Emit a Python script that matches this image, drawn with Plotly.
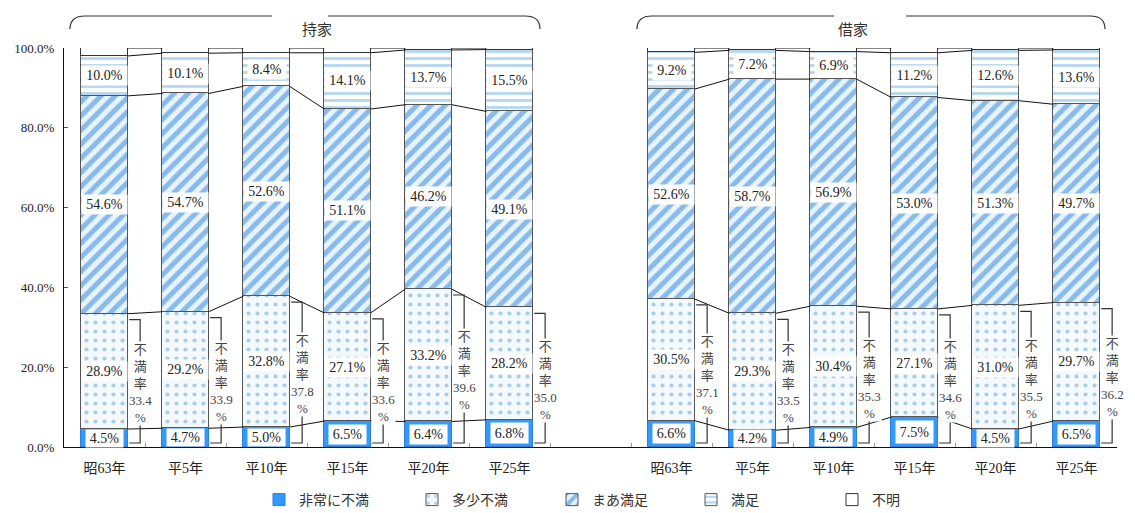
import plotly.graph_objects as go

# ---------------- data ----------------
periods = ["昭63年", "平5年", "平10年", "平15年", "平20年", "平25年"]
groups = ["持家", "借家"]
series_names = ["非常に不満", "多少不満", "まあ満足", "満足", "不明"]

own_very_dissat = [4.5, 4.7, 5.0, 6.5, 6.4, 6.8]
own_some_dissat = [28.9, 29.2, 32.8, 27.1, 33.2, 28.2]
own_fairly_sat = [54.6, 54.7, 52.6, 51.1, 46.2, 49.1]
own_sat = [10.0, 10.1, 8.4, 14.1, 13.7, 15.5]
own_unknown = [2.0, 1.3, 1.2, 1.2, 0.5, 0.4]
own_dissat_rate = [33.4, 33.9, 37.8, 33.6, 39.6, 35.0]

rent_very_dissat = [6.6, 4.2, 4.9, 7.5, 4.5, 6.5]
rent_some_dissat = [30.5, 29.3, 30.4, 27.1, 31.0, 29.7]
rent_fairly_sat = [52.6, 58.7, 56.9, 53.0, 51.3, 49.7]
rent_sat = [9.2, 7.2, 6.9, 11.2, 12.6, 13.6]
rent_unknown = [1.1, 0.6, 0.9, 1.2, 0.6, 0.5]
rent_dissat_rate = [37.1, 33.5, 35.3, 34.6, 35.5, 36.2]

y_tickvals = [0, 20, 40, 60, 80, 100]
y_ticktext = ["0.0%", "20.0%", "40.0%", "60.0%", "80.0%", "100.0%"]

# ---------------- layout helpers ----------------
W, H = 1135, 513
ML, MR, MT, MB = 64, 18, 48, 66
PW, PH = W - ML - MR, H - MT - MB

own_pos = list(range(0, 6))
rent_pos = list(range(7, 13))
BAR_W = 0.57
HALF = BAR_W / 2

SERIF = "Liberation Serif, Noto Sans CJK JP, serif"
SANS = "Noto Sans CJK JP, sans-serif"


def PX(px):
    return (px - ML) / PW


def PY(py):
    return (H - MB - py) / PH


styles = [
    dict(color="#3399FF", line=dict(color="#2a7fd6", width=1)),
    dict(color="#f4f9fd", line=dict(color="#555555", width=1),
         pattern=dict(shape=".", fgcolor="#5f9fd8", bgcolor="#f3f9fd", size=9, solidity=0.17)),
    dict(color="#dff0fb", line=dict(color="#555555", width=1),
         pattern=dict(shape="/", fgcolor="#2b80d8", bgcolor="#e6f4fd", size=10, solidity=0.5)),
    dict(color="#ffffff", line=dict(color="#555555", width=1),
         pattern=dict(shape="-", fgcolor="#6aaee4", bgcolor="#ffffff", size=7, solidity=0.4)),
    dict(color="#ffffff", line=dict(color="#333333", width=1)),
]

own_series = [own_very_dissat, own_some_dissat, own_fairly_sat, own_sat, own_unknown]
rent_series = [rent_very_dissat, rent_some_dissat, rent_fairly_sat, rent_sat, rent_unknown]

fig = go.Figure()

legend_names = ["legend", "legend2", "legend3", "legend4", "legend5"]
for k, name in enumerate(series_names):
    fig.add_trace(go.Bar(
        x=own_pos + rent_pos,
        y=own_series[k] + rent_series[k],
        name=name,
        width=BAR_W,
        marker=styles[k],
        legend=legend_names[k],
        hoverinfo="skip",
    ))

# connector lines between neighbouring bars
for pos, ser in [(own_pos, own_series), (rent_pos, rent_series)]:
    xs, ys = [], []
    n = len(pos)
    cums = []
    run = [0.0] * n
    for s in ser:
        run = [run[i] + s[i] for i in range(n)]
        cums.append(run[:])
    for c in cums:
        for i in range(n - 1):
            xs += [pos[i] + HALF, pos[i + 1] - HALF, None]
            ys += [c[i], c[i + 1], None]
    fig.add_trace(go.Scatter(x=xs, y=ys, mode="lines", line=dict(color="#111111", width=1),
                             showlegend=False, hoverinfo="skip"))

# 不満率 brackets
bx, by = [], []
for pos, rates in [(own_pos, own_dissat_rate), (rent_pos, rent_dissat_rate)]:
    for p, r in zip(pos, rates):
        top = r - 1.5
        bot = 1.0
        bx += [p + HALF + 0.02, p + 0.44, p + 0.44, p + HALF + 0.02, None]
        by += [top, top, bot, bot, None]
fig.add_trace(go.Scatter(x=bx, y=by, mode="lines", line=dict(color="#333333", width=1.2),
                         showlegend=False, hoverinfo="skip"))

annotations = []
# value labels
for pos, ser in [(own_pos, own_series), (rent_pos, rent_series)]:
    n = len(pos)
    base = [0.0] * n
    for k in range(4):
        s = ser[k]
        for i in range(n):
            mid = base[i] + s[i] / 2
            txt = f"{s[i]:.1f}%"
            seg_px = s[i] * PH / 100
            if k == 0:
                w, h = 37, max(17, min(seg_px - 7, 22))
            else:
                w = 45 if len(txt) >= 5 else 38
                h = 19
            annotations.append(dict(
                x=pos[i], y=mid, xref="x", yref="y", text=txt, showarrow=False,
                bgcolor="white", width=w, height=h, borderpad=0,
                font=dict(family=SERIF, size=14, color="#222222"),
            ))
        base = [base[i] + s[i] for i in range(n)]

# 不満率 text
for pos, rates in [(own_pos, own_dissat_rate), (rent_pos, rent_dissat_rate)]:
    for p, r in zip(pos, rates):
        annotations.append(dict(
            x=p + 0.45, y=(r - 1.5 + 1.0) / 2 - 0.5, xref="x", yref="y",
            text=f"不<br>満<br>率<br>{r:.1f}<br>%", showarrow=False,
            bgcolor="white", borderpad=0,
            font=dict(family=SERIF, size=13, color="#444444"),
        ))

# group titles
annotations.append(dict(x=PX(300), y=PY(16), xref="paper", yref="paper", text=groups[0],
                        showarrow=False, font=dict(family=SANS, size=15, color="#333333")))
annotations.append(dict(x=PX(870), y=PY(16), xref="paper", yref="paper", text=groups[1],
                        showarrow=False, font=dict(family=SANS, size=15, color="#333333")))

shapes = []


def brace_paths(x0, x1, gap0, gap1, ytop=16, yend=29, r=15):
    p1 = (f"M {PX(x0)},{PY(yend)} Q {PX(x0)},{PY(ytop)} {PX(x0 + r)},{PY(ytop)} "
          f"L {PX(gap0)},{PY(ytop)}")
    p2 = (f"M {PX(gap1)},{PY(ytop)} L {PX(x1 - r)},{PY(ytop)} "
          f"Q {PX(x1)},{PY(ytop)} {PX(x1)},{PY(yend)}")
    return [p1, p2]


for path in brace_paths(70, 540, 272, 328) + brace_paths(637, 1105, 834, 906):
    shapes.append(dict(type="path", path=path, xref="paper", yref="paper",
                       line=dict(color="#333333", width=1.2)))

# legends, one per item
legend_px = [280, 433, 573, 712, 853]
legend_layouts = {}
for k, lname in enumerate(legend_names):
    legend_layouts[lname] = dict(
        x=PX(legend_px[k] - 21), y=PY(500), xanchor="left", yanchor="middle",
        orientation="h", bgcolor="rgba(0,0,0,0)",
        font=dict(family=SANS, size=14, color="#333333"),
        itemclick=False, itemdoubleclick=False,
    )

boundaries = [p + 0.5 for p in own_pos[:-1]] + [own_pos[-1] + 0.5, rent_pos[0] - 0.5] + \
             [p + 0.5 for p in rent_pos[:-1]]

fig.update_layout(
    width=W, height=H, autosize=False,
    margin=dict(l=ML, r=MR, t=MT, b=MB, pad=0, autoexpand=False),
    paper_bgcolor="white", plot_bgcolor="white",
    barmode="stack", bargap=0,
    showlegend=True,
    annotations=annotations,
    shapes=shapes,
    xaxis=dict(
        range=[-0.5, 12.5], tickvals=own_pos + rent_pos, ticktext=periods + periods,
        showgrid=False, zeroline=False, showline=True, linecolor="#111111", linewidth=1,
        ticks="", tickfont=dict(family=SERIF, size=14, color="#222222"),
        ticklabelstandoff=8,
        minor=dict(tickvals=boundaries, ticks="inside", ticklen=4, tickcolor="#999999"),
    ),
    yaxis=dict(
        range=[0, 100], tickvals=y_tickvals, ticktext=y_ticktext,
        showgrid=False, zeroline=False, showline=True, linecolor="#111111", linewidth=1,
        ticks="inside", ticklen=4, tickcolor="#555555",
        tickfont=dict(family=SERIF, size=13, color="#222222"),
        ticklabelstandoff=6,
    ),
    **legend_layouts,
)

fig.write_html("out.html")
